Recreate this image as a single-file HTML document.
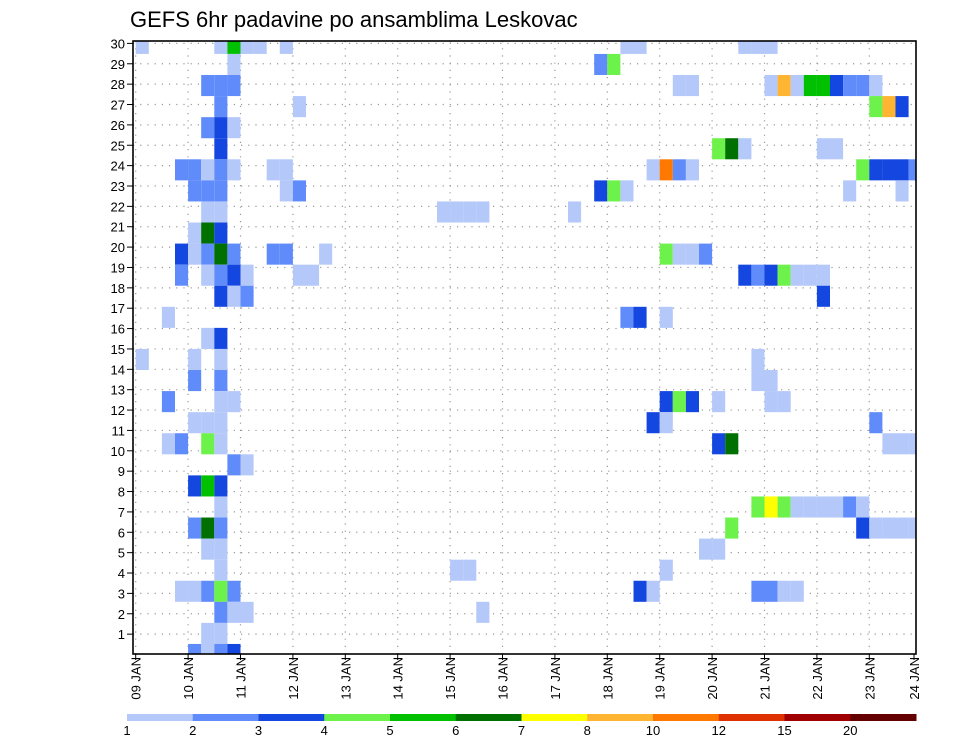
<!DOCTYPE html>
<html><head><meta charset="utf-8"><style>
html,body{margin:0;padding:0;background:#fff;}
svg{display:block;font-family:"Liberation Sans",sans-serif;}
</style></head><body>
<svg id="chart" width="960" height="742" viewBox="0 0 960 742" xmlns="http://www.w3.org/2000/svg">
<text x="130" y="27" font-size="22" fill="#000">GEFS 6hr padavine po ansamblima Leskovac</text>
<g id="grid"></g>
<g id="cells"></g>
<rect x="133" y="41" width="783" height="613" fill="none" stroke="#000" stroke-width="1.6"/>
<g id="yaxis"></g>
<g id="xaxis"></g>
<g id="legend"></g>
</svg>
<script>
// ---- data ----
const dayLabels = ["09 JAN","10 JAN","11 JAN","12 JAN","13 JAN","14 JAN","15 JAN","16 JAN","17 JAN","18 JAN","19 JAN","20 JAN","21 JAN","22 JAN","23 JAN","24 JAN"];
const yTicks = [1,2,3,4,5,6,7,8,9,10,11,12,13,14,15,16,17,18,19,20,21,22,23,24,25,26,27,28,29,30];
const levels = [1,2,3,4,5,6,7,8,10,12,15,20];
const levelLabels = ["1","2","3","4","5","6","7","8","10","12","15","20"];
const colors = ["#b4c8fa","#5f8cfa","#1446e0","#6cf24a","#00c000","#007000","#ffff00","#ffb432","#ff7800","#e03200","#a00000","#640000"];
// cells: member (30 top .. 1 bottom), 6-hour step index from 09 JAN 00z, precip value (mm)
const members = [30,30,30,30,30,30,30,30,30,30,30, 29,29,29, 28,28,28,28,28,28,28,28,28,28,28,28,28,28, 27,27,27,27,27, 26,26,26, 25,25,25,25,25,25, 24,24,24,24,24,24,24,24,24,24,24,24,24,24,24,24, 23,23,23,23,23,23,23,23,23,23, 22,22,22,22,22,22,22, 21,21,21, 20,20,20,20,20,20,20,20,20,20,20,20, 19,19,19,19,19,19,19,19,19,19,19,19,19,19, 18,18,18,18, 17,17,17,17, 16,16, 15,15,15,15, 14,14,14,14, 13,13,13,13,13,13,13,13,13, 12,12,12,12,12,12, 11,11,11,11,11,11,11,11,11, 10,10, 9,9,9, 8,8,8,8,8,8,8,8,8,8, 7,7,7,7,7,7,7,7,7, 6,6,6,6, 5,5,5,5, 4,4,4,4,4,4,4,4,4,4,4, 3,3,3,3, 2,2, 1,1,1,1];
const steps = [0,6,7,8,9,11,37,38,46,47,48, 7,35,36, 5,6,7,41,42,48,49,50,51,52,53,54,55,56, 6,12,56,57,58, 5,6,7, 6,44,45,46,52,53, 3,4,5,6,7,10,11,39,40,41,42,55,56,57,58,59, 4,5,6,11,12,35,36,37,54,58, 5,6,23,24,25,26,33, 4,5,6, 3,4,5,6,7,10,11,14,40,41,42,43, 3,5,6,7,8,12,13,46,47,48,49,50,51,52, 6,7,8,52, 2,37,38,40, 5,6, 0,4,6,47, 4,6,47,48, 2,6,7,40,41,42,44,48,49, 4,5,6,39,40,56, 2,3,5,6,44,45,57,58,59, 7,8, 4,5,6, 6,47,48,49,50,51,52,53,54,55, 4,5,6,45,55,56,57,58,59, 5,6,43,44, 6,24,25,40, 3,4,5,6,7,38,39,47,48,49,50, 6,7,8,26, 5,6, 4,5,6,7];
const precip = [1.5,1.5,5.5,1.5,1.5,1.5,1.5,1.5,1.5,1.5,1.5, 1.5,2.5,4.5, 2.5,2.5,2.5,1.5,1.5,1.5,9,1.5,5.5,5.5,3.5,2.5,2.5,1.5, 2.5,1.5,4.5,9,3.5, 2.5,3.5,1.5, 3.5,4.5,6.5,1.5,1.5,1.5, 2.5,2.5,1.5,2.5,1.5,1.5,1.5,1.5,11,2.5,1.5,4.5,3.5,3.5,3.5,2.5, 2.5,2.5,2.5,1.5,2.5,3.5,4.5,1.5,1.5,1.5, 1.5,1.5,1.5,1.5,1.5,1.5,1.5, 1.5,6.5,3.5, 3.5,1.5,2.5,6.5,2.5,2.5,2.5,1.5,4.5,1.5,1.5,2.5, 2.5,1.5,2.5,3.5,1.5,1.5,1.5,3.5,2.5,3.5,4.5,1.5,1.5,1.5, 3.5,1.5,2.5,3.5, 1.5,2.5,3.5,1.5, 1.5,3.5, 1.5,1.5,1.5,1.5, 2.5,2.5,1.5,1.5, 2.5,1.5,1.5,3.5,4.5,3.5,1.5,1.5,1.5, 1.5,1.5,1.5,3.5,1.5,2.5, 1.5,2.5,4.5,1.5,3.5,6.5,1.5,1.5,1.5, 2.5,1.5, 3.5,5.5,3.5, 1.5,4.5,7.5,4.5,1.5,1.5,1.5,1.5,2.5,1.5, 2.5,6.5,2.5,4.5,3.5,1.5,1.5,1.5,1.5, 1.5,1.5,1.5,1.5, 1.5,1.5,1.5,1.5, 1.5,1.5,2.5,4.5,2.5,3.5,1.5,2.5,2.5,1.5,1.5, 2.5,1.5,1.5,1.5, 1.5,1.5, 2.5,1.5,2.5,3.5];

// ---- layout ----
const NS = "http://www.w3.org/2000/svg";
const plotL = 133, plotR = 916, plotT = 41, plotB = 654;
const x0 = 135.7, dayW = 52.4;
function xScale(hours){ return x0 + hours / 24 * dayW; }
function yScale(v){ return 654.5 - v * 20.37; }
const nRows = 30;
const rowH = (yScale(0) - yScale(30)) / (nRows - 1);
function cellCenterY(m){ return yScale(30) + (30 - m) * rowH; }
function colorFor(v){ let c = 0; for (let i = 0; i < levels.length; i++) if (v >= levels[i]) c = i; return colors[c]; }
function mk(tag, attrs, parent){ const e = document.createElementNS(NS, tag); for (const k in attrs) e.setAttribute(k, attrs[k]); parent.appendChild(e); return e; }

// grid
const grid = document.getElementById("grid");
yTicks.forEach(function(t){
  const ln = mk("line", {x1:plotL, x2:plotR, y1:yScale(t), y2:yScale(t), stroke:"#999", "stroke-width":1.2, "stroke-dasharray":"1.2,6"}, grid);
  
  
});
dayLabels.forEach(function(d, i){
  const x = xScale(i * 24);
  if (x <= plotL + 2 || x >= plotR - 1) return;
  const ln = mk("line", {x1:x, x2:x, y1:plotT, y2:plotB, stroke:"#999", "stroke-width":1.2, "stroke-dasharray":"1.2,6"}, grid);
  
  
});

// cells
const cg = document.getElementById("cells");
for (let i = 0; i < members.length; i++){
  let xa = xScale(steps[i] * 6), xb = xScale(steps[i] * 6 + 6);
  let yc = cellCenterY(members[i]);
  let ya = yc - rowH / 2, yb = yc + rowH / 2;
  xa = Math.max(xa, plotL); xb = Math.min(xb, plotR);
  ya = Math.max(ya, plotT); yb = Math.min(yb, plotB);
  if (xb <= xa || yb <= ya) continue;
  const r = mk("rect", {x:xa, y:ya, width:xb - xa, height:yb - ya, fill:colorFor(precip[i])}, cg);
  
  
}

// y axis
const ya = document.getElementById("yaxis");
yTicks.forEach(function(t){
  const y = yScale(t);
  const tk = mk("line", {x1:plotL - 6, x2:plotL, y1:y, y2:y, stroke:"#000", "stroke-width":1}, ya);
  
  
  const tx = mk("text", {x:plotL - 8, y:y + 5, "text-anchor":"end", "font-size":13, fill:"#000"}, ya);
  tx.textContent = String(t);
  
  
});

// x axis
const xa = document.getElementById("xaxis");
dayLabels.forEach(function(d, i){
  let x = Math.min(xScale(i * 24), plotR - 2);
  const tk = mk("line", {x1:x, x2:x, y1:plotB, y2:plotB + 6, stroke:"#000", "stroke-width":1}, xa);
  
  
  const tx = mk("text", {x:0, y:0, "text-anchor":"end", "font-size":13, fill:"#000", transform:"translate(" + (x + 5) + "," + 657 + ") rotate(-90)"}, xa);
  tx.textContent = d;
  
  
});

// colorbar
const lg = document.getElementById("legend");
const cbL = 127, cbR = 916, cbW = (cbR - cbL) / colors.length;
colors.forEach(function(c, i){
  const r = mk("rect", {x:cbL + i * cbW, y:714, width:cbW + 0.5, height:7, fill:c}, lg);
  
  
});
levelLabels.forEach(function(l, i){
  const t = mk("text", {x:cbL + i * cbW, y:735, "text-anchor":"middle", "font-size":13, fill:"#000"}, lg);
  t.textContent = l;
  
  
});
</script>
</body></html>
